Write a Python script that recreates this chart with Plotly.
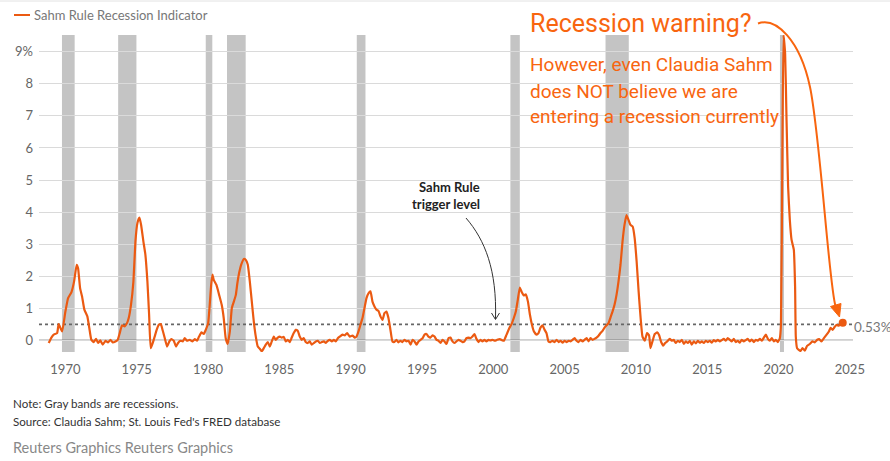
import plotly.graph_objects as go

# ---------------- data ----------------
years = [
    1968.83, 1969.02, 1969.18, 1969.42, 1969.53, 1969.77, 1970.00, 1970.19, 1970.42, 1970.61,
    1970.79, 1970.89, 1971.03, 1971.17, 1971.33, 1971.54, 1971.68, 1971.82, 1971.99, 1972.15,
    1972.29, 1972.45, 1972.62, 1972.81, 1972.99, 1973.16, 1973.32, 1973.51, 1973.67, 1973.81,
    1973.97, 1974.16, 1974.32, 1974.44, 1974.60, 1974.77, 1974.91, 1975.05, 1975.19, 1975.31,
    1975.47, 1975.61, 1975.75, 1975.87, 1975.98, 1976.12, 1976.26, 1976.40, 1976.55, 1976.69,
    1976.83, 1976.97, 1977.13, 1977.29, 1977.43, 1977.60, 1977.76, 1977.90, 1978.06, 1978.23,
    1978.37, 1978.53, 1978.72, 1978.91, 1979.07, 1979.23, 1979.37, 1979.54, 1979.70, 1979.84,
    1980.01, 1980.12, 1980.22, 1980.31, 1980.40, 1980.59, 1980.78, 1980.96, 1981.10, 1981.24,
    1981.38, 1981.53, 1981.67, 1981.81, 1981.95, 1982.06, 1982.18, 1982.34, 1982.51, 1982.65,
    1982.79, 1982.93, 1983.07, 1983.21, 1983.35, 1983.49, 1983.63, 1983.77, 1983.91, 1984.05,
    1984.19, 1984.33, 1984.47, 1984.61, 1984.75, 1984.89, 1985.03, 1985.17, 1985.31, 1985.45,
    1985.59, 1985.73, 1985.87, 1986.01, 1986.15, 1986.29, 1986.43, 1986.57, 1986.71, 1986.85,
    1986.99, 1987.13, 1987.27, 1987.42, 1987.56, 1987.70, 1987.84, 1987.98, 1988.12, 1988.26,
    1988.40, 1988.54, 1988.68, 1988.82, 1988.96, 1989.10, 1989.24, 1989.43, 1989.59, 1989.75,
    1989.94, 1990.13, 1990.29, 1990.41, 1990.55, 1990.69, 1990.83, 1990.97, 1991.11, 1991.25,
    1991.39, 1991.53, 1991.67, 1991.81, 1991.95, 1992.09, 1992.23, 1992.37, 1992.51, 1992.65,
    1992.79, 1992.93, 1993.07, 1993.21, 1993.35, 1993.49, 1993.63, 1993.77, 1993.92, 1994.06,
    1994.20, 1994.34, 1994.48, 1994.62, 1994.76, 1994.90, 1995.04, 1995.18, 1995.32, 1995.46,
    1995.60, 1995.74, 1995.88, 1996.02, 1996.16, 1996.30, 1996.44, 1996.58, 1996.72, 1996.86,
    1997.00, 1997.14, 1997.28, 1997.42, 1997.56, 1997.70, 1997.84, 1997.98, 1998.12, 1998.26,
    1998.40, 1998.54, 1998.68, 1998.82, 1998.96, 1999.10, 1999.24, 1999.38, 1999.52, 1999.66,
    1999.80, 1999.95, 2000.11, 2000.27, 2000.46, 2000.60, 2000.74, 2000.93, 2001.12, 2001.28,
    2001.44, 2001.58, 2001.72, 2001.86, 2002.00, 2002.14, 2002.28, 2002.43, 2002.57, 2002.71,
    2002.85, 2003.03, 2003.17, 2003.31, 2003.45, 2003.60, 2003.73, 2003.87, 2004.01, 2004.15,
    2004.29, 2004.44, 2004.58, 2004.72, 2004.86, 2005.00, 2005.14, 2005.28, 2005.42, 2005.56,
    2005.70, 2005.84, 2005.98, 2006.12, 2006.26, 2006.40, 2006.54, 2006.68, 2006.82, 2006.96,
    2007.10, 2007.24, 2007.38, 2007.52, 2007.66, 2007.80, 2007.94, 2008.08, 2008.22, 2008.36,
    2008.50, 2008.64, 2008.78, 2008.92, 2009.06, 2009.20, 2009.34, 2009.48, 2009.62, 2009.77,
    2009.91, 2010.05, 2010.19, 2010.33, 2010.46, 2010.62, 2010.78, 2010.92, 2011.02, 2011.16,
    2011.32, 2011.49, 2011.63, 2011.77, 2011.91, 2012.05, 2012.19, 2012.37, 2012.51, 2012.65,
    2012.79, 2012.94, 2013.08, 2013.22, 2013.36, 2013.50, 2013.64, 2013.78, 2013.92, 2014.06,
    2014.20, 2014.34, 2014.48, 2014.62, 2014.76, 2014.90, 2015.04, 2015.18, 2015.32, 2015.46,
    2015.60, 2015.74, 2015.88, 2016.02, 2016.16, 2016.30, 2016.44, 2016.58, 2016.72, 2016.86,
    2017.00, 2017.14, 2017.28, 2017.42, 2017.56, 2017.70, 2017.84, 2017.98, 2018.12, 2018.27,
    2018.41, 2018.55, 2018.69, 2018.83, 2018.97, 2019.11, 2019.25, 2019.39, 2019.53, 2019.67,
    2019.81, 2019.95, 2020.09, 2020.17, 2020.27, 2020.35, 2020.46, 2020.56, 2020.67, 2020.79,
    2020.91, 2021.07, 2021.16, 2021.21, 2021.30, 2021.54, 2021.68, 2021.84, 2022.00, 2022.19,
    2022.38, 2022.54, 2022.71, 2022.85, 2023.01, 2023.18, 2023.37, 2023.53, 2023.65, 2023.79,
    2023.93, 2024.07, 2024.21, 2024.37, 2024.50,
]
sahm = [
    -0.08, 0.09, 0.18, 0.23, 0.51, 0.28, 0.90, 1.32, 1.50, 1.84,
    2.36, 2.25, 1.63, 1.37, 0.96, 0.75, 0.38, 0.02, -0.05, 0.05,
    -0.08, 0.00, -0.13, -0.01, -0.06, 0.02, -0.06, -0.03, 0.02, 0.23,
    0.47, 0.44, 0.54, 0.70, 1.11, 1.84, 3.08, 3.66, 3.83, 3.60,
    3.08, 2.67, 1.84, 0.80, -0.24, -0.08, 0.12, 0.33, 0.49, 0.51,
    0.30, 0.07, -0.19, -0.03, 0.04, -0.01, -0.19, -0.08, -0.01, -0.03,
    0.07, -0.01, 0.02, -0.03, 0.04, -0.01, 0.12, 0.25, 0.20, 0.33,
    0.54, 1.11, 1.73, 2.05, 1.89, 1.73, 1.42, 1.11, 0.70, 0.07,
    -0.11, 0.28, 1.01, 1.21, 1.42, 1.79, 2.10, 2.38, 2.54, 2.51,
    2.36, 1.84, 1.21, 0.59, 0.12, -0.19, -0.26, -0.34, -0.24, -0.13,
    -0.05, -0.19, -0.03, 0.12, 0.02, 0.09, 0.12, 0.09, 0.11, -0.03,
    0.02, -0.05, 0.09, 0.23, 0.33, 0.30, 0.12, 0.02, 0.07, -0.05,
    -0.08, -0.03, -0.13, -0.08, -0.03, -0.01, -0.08, -0.05, -0.03, -0.08,
    -0.01, 0.02, -0.03, 0.02, -0.03, 0.07, 0.12, 0.18, 0.16, 0.23,
    0.12, 0.15, 0.09, 0.12, 0.28, 0.49, 0.70, 1.01, 1.32, 1.47,
    1.53, 1.21, 1.06, 0.96, 0.92, 0.75, 0.64, 0.85, 0.90, 0.70,
    0.33, -0.03, -0.05, 0.02, -0.06, -0.01, -0.05, 0.02, -0.03, -0.01,
    -0.13, 0.02, -0.03, -0.13, -0.03, 0.02, 0.07, 0.18, 0.20, 0.12,
    0.09, 0.16, 0.12, 0.02, -0.01, -0.08, 0.02, -0.03, -0.11, 0.07,
    0.09, -0.03, -0.08, -0.03, 0.02, -0.01, -0.05, -0.03, 0.07, 0.09,
    0.07, 0.12, 0.20, 0.05, -0.05, 0.02, -0.03, 0.02, -0.03, 0.02,
    0.00, 0.02, -0.01, 0.02, 0.04, 0.01, -0.01, 0.18, 0.38, 0.51,
    0.70, 0.90, 1.27, 1.65, 1.50, 1.40, 1.44, 1.21, 0.80, 0.49,
    0.28, 0.18, 0.23, 0.40, 0.47, 0.33, 0.23, -0.03, -0.05, -0.01,
    -0.05, 0.02, -0.05, -0.01, -0.07, -0.01, -0.05, -0.01, -0.03, 0.02,
    0.07, -0.01, -0.05, 0.02, -0.03, 0.02, 0.07, -0.03, 0.07, 0.02,
    0.05, 0.09, 0.15, 0.23, 0.30, 0.40, 0.47, 0.54, 0.72, 0.90,
    1.11, 1.42, 1.84, 2.36, 3.08, 3.60, 3.91, 3.76, 3.60, 3.55,
    3.20, 2.46, 1.53, 0.70, 0.12, -0.01, 0.23, 0.16, -0.24, -0.03,
    0.20, 0.25, 0.16, -0.05, -0.16, -0.08, -0.03, 0.05, -0.01, 0.02,
    -0.08, -0.01, -0.05, 0.02, -0.11, -0.03, -0.08, -0.01, -0.13, -0.03,
    -0.09, -0.01, -0.07, -0.03, -0.08, -0.01, -0.05, -0.01, -0.07, 0.01,
    -0.03, 0.02, -0.03, 0.01, 0.05, -0.01, 0.07, 0.02, -0.03, 0.05,
    -0.05, -0.01, -0.07, 0.02, -0.03, 0.01, 0.05, -0.03, 0.03, -0.05,
    0.02, -0.01, 0.05, -0.01, 0.09, 0.18, 0.05, -0.01, 0.07, -0.03,
    0.02, -0.05, 0.07, 0.50, 6.00, 9.52, 8.95, 6.88, 4.80, 3.76,
    3.14, 2.83, 1.68, 0.12, -0.24, -0.33, -0.24, -0.32, -0.17, -0.11,
    -0.03, -0.06, 0.02, 0.04, -0.03, 0.07, 0.18, 0.28, 0.39, 0.33,
    0.42, 0.49, 0.46, 0.52, 0.55,
]

recession_start = [1969.76, 1973.70, 1979.84, 1981.33, 1990.43, 2001.20, 2007.87, 2020.10]
recession_end = [1970.65, 1974.98, 1980.30, 1982.64, 1991.04, 2001.86, 2009.50, 2020.38]

trigger_level = 0.5
latest_label = "0.53%"

x_ticks = [1970, 1975, 1980, 1985, 1990, 1995, 2000, 2005, 2010, 2015, 2020, 2025]
y_ticks = [0, 1, 2, 3, 4, 5, 6, 7, 8, 9]
y_tick_text = ["0", "1", "2", "3", "4", "5", "6", "7", "8", "9%"]

# ---------------- styling ----------------
LINE_C = "#EB5A12"
TEXT_O = "#F8650F"
BAND_C = "#C4C4C4"
W, H = 890, 461
L, R, T, B = 39, 853, 35, 352   # plot area in pixels

def px(x):
    return (x - L) / (R - L)

def py(y):
    return (B - y) / (B - T)

fig = go.Figure()

fig.add_trace(go.Scatter(
    x=years, y=sahm, mode="lines",
    line=dict(color=LINE_C, width=2.2, shape="spline", smoothing=0.4),
    name="Sahm Rule Recession Indicator", showlegend=False,
    hoverinfo="skip",
))
fig.add_trace(go.Scatter(
    x=[years[-1]], y=[sahm[-1]], mode="markers",
    marker=dict(color=LINE_C, size=8), showlegend=False, hoverinfo="skip",
))

shapes = []
for s, e in zip(recession_start, recession_end):
    shapes.append(dict(type="rect", xref="x", yref="paper", x0=s, x1=e, y0=0, y1=1,
                       fillcolor=BAND_C, line=dict(width=0), layer="between"))
# zero line and trigger level
shapes.append(dict(type="line", xref="paper", yref="y", x0=0, x1=1, y0=0, y1=0,
                   line=dict(color="#444444", width=1.2), layer="between"))
shapes.append(dict(type="line", xref="paper", yref="y", x0=0, x1=1, y0=trigger_level, y1=trigger_level,
                   line=dict(color="#666666", width=1.6, dash="dot"), layer="between"))
# top border
shapes.append(dict(type="line", xref="paper", yref="paper", x0=px(0), x1=px(W), y0=py(1), y1=py(1),
                   line=dict(color="#E2E2E2", width=1)))
# legend swatch
shapes.append(dict(type="line", xref="paper", yref="paper", x0=px(14), x1=px(30), y0=py(15), y1=py(15),
                   line=dict(color=LINE_C, width=2)))

def P(x, y):
    return f"{px(x):.5f},{py(y):.5f}"

# orange curved arrow
shapes.append(dict(type="path", xref="paper", yref="paper",
                   path=f"M{P(758,23.5)} C{P(776,17)} {P(800,40)} {P(810,87)} "
                        f"C{P(820,134)} {P(829,285)} {P(835.5,306)}",
                   line=dict(color=TEXT_O, width=2)))
shapes.append(dict(type="path", xref="paper", yref="paper",
                   path=f"M{P(839.5,317)} L{P(841,303.5)} L{P(830.5,306.5)} Z",
                   fillcolor=TEXT_O, line=dict(color=TEXT_O, width=1)))
# black thin arrow
shapes.append(dict(type="path", xref="paper", yref="paper",
                   path=f"M{P(466,218)} C{P(485,240)} {P(497,270)} {P(495.5,319)}",
                   line=dict(color="#333333", width=1)))
shapes.append(dict(type="path", xref="paper", yref="paper",
                   path=f"M{P(491.5,313)} L{P(495.5,319.5)} L{P(499.5,313)}",
                   line=dict(color="#333333", width=1)))

ann = []
def text(x, y, s, size, color, family="Roboto", xanchor="left", bold=False):
    ann.append(dict(xref="paper", yref="paper", x=px(x), y=py(y), text=(f"<b>{s}</b>" if bold else s),
                    showarrow=False, xanchor=xanchor, yanchor="middle",
                    font=dict(size=size, color=color, family=family)))

text(32, 15, "Sahm Rule Recession Indicator", 13, "#777777", family="Lato")
text(528, 23, "Recession warning?", 25, TEXT_O)
text(528, 65, "However, even Claudia Sahm", 19, TEXT_O)
text(528, 91, "does NOT believe we are", 19, TEXT_O)
text(528, 117, "entering a recession currently", 19, TEXT_O)
text(482, 187, "Sahm Rule", 13, "#222222", family="Lato", xanchor="right", bold=True)
text(482, 203.5, "trigger level", 13, "#222222", family="Lato", xanchor="right", bold=True)
text(852, 327, latest_label, 13.5, "#777777", family="Lato")
text(11, 403.5, "Note: Gray bands are recessions.", 11.6, "#333333", family="Lato")
text(11, 421, "Source: Claudia Sahm; St. Louis Fed's FRED database", 11.6, "#333333", family="Lato")
text(11, 447.5, "Reuters Graphics Reuters Graphics", 14.5, "#888888", family="Lato")

fig.update_layout(
    width=W, height=H,
    margin=dict(l=L, r=W - R, t=T, b=H - B, pad=0),
    paper_bgcolor="white", plot_bgcolor="white",
    showlegend=False,
    shapes=shapes, annotations=ann,
    font=dict(family="Lato", color="#666666", size=13),
    xaxis=dict(range=[1968.15, 2025.22], tickvals=x_ticks, showgrid=False, zeroline=False,
               showline=False, ticks="", ticklabelstandoff=8,
               tickfont=dict(size=13, color="#666666", family="Lato")),
    yaxis=dict(range=[-0.36, 9.52], tickvals=y_ticks, ticktext=y_tick_text,
               showgrid=True, gridcolor="#DADADA", gridwidth=1, zeroline=False,
               showline=False, ticks="", ticklabelstandoff=5,
               tickfont=dict(size=13, color="#666666", family="Lato")),
)

fig.write_html("out.html", config={"displayModeBar": False},
               post_script="document.body.style.margin='0px';document.body.style.overflow='hidden';")
